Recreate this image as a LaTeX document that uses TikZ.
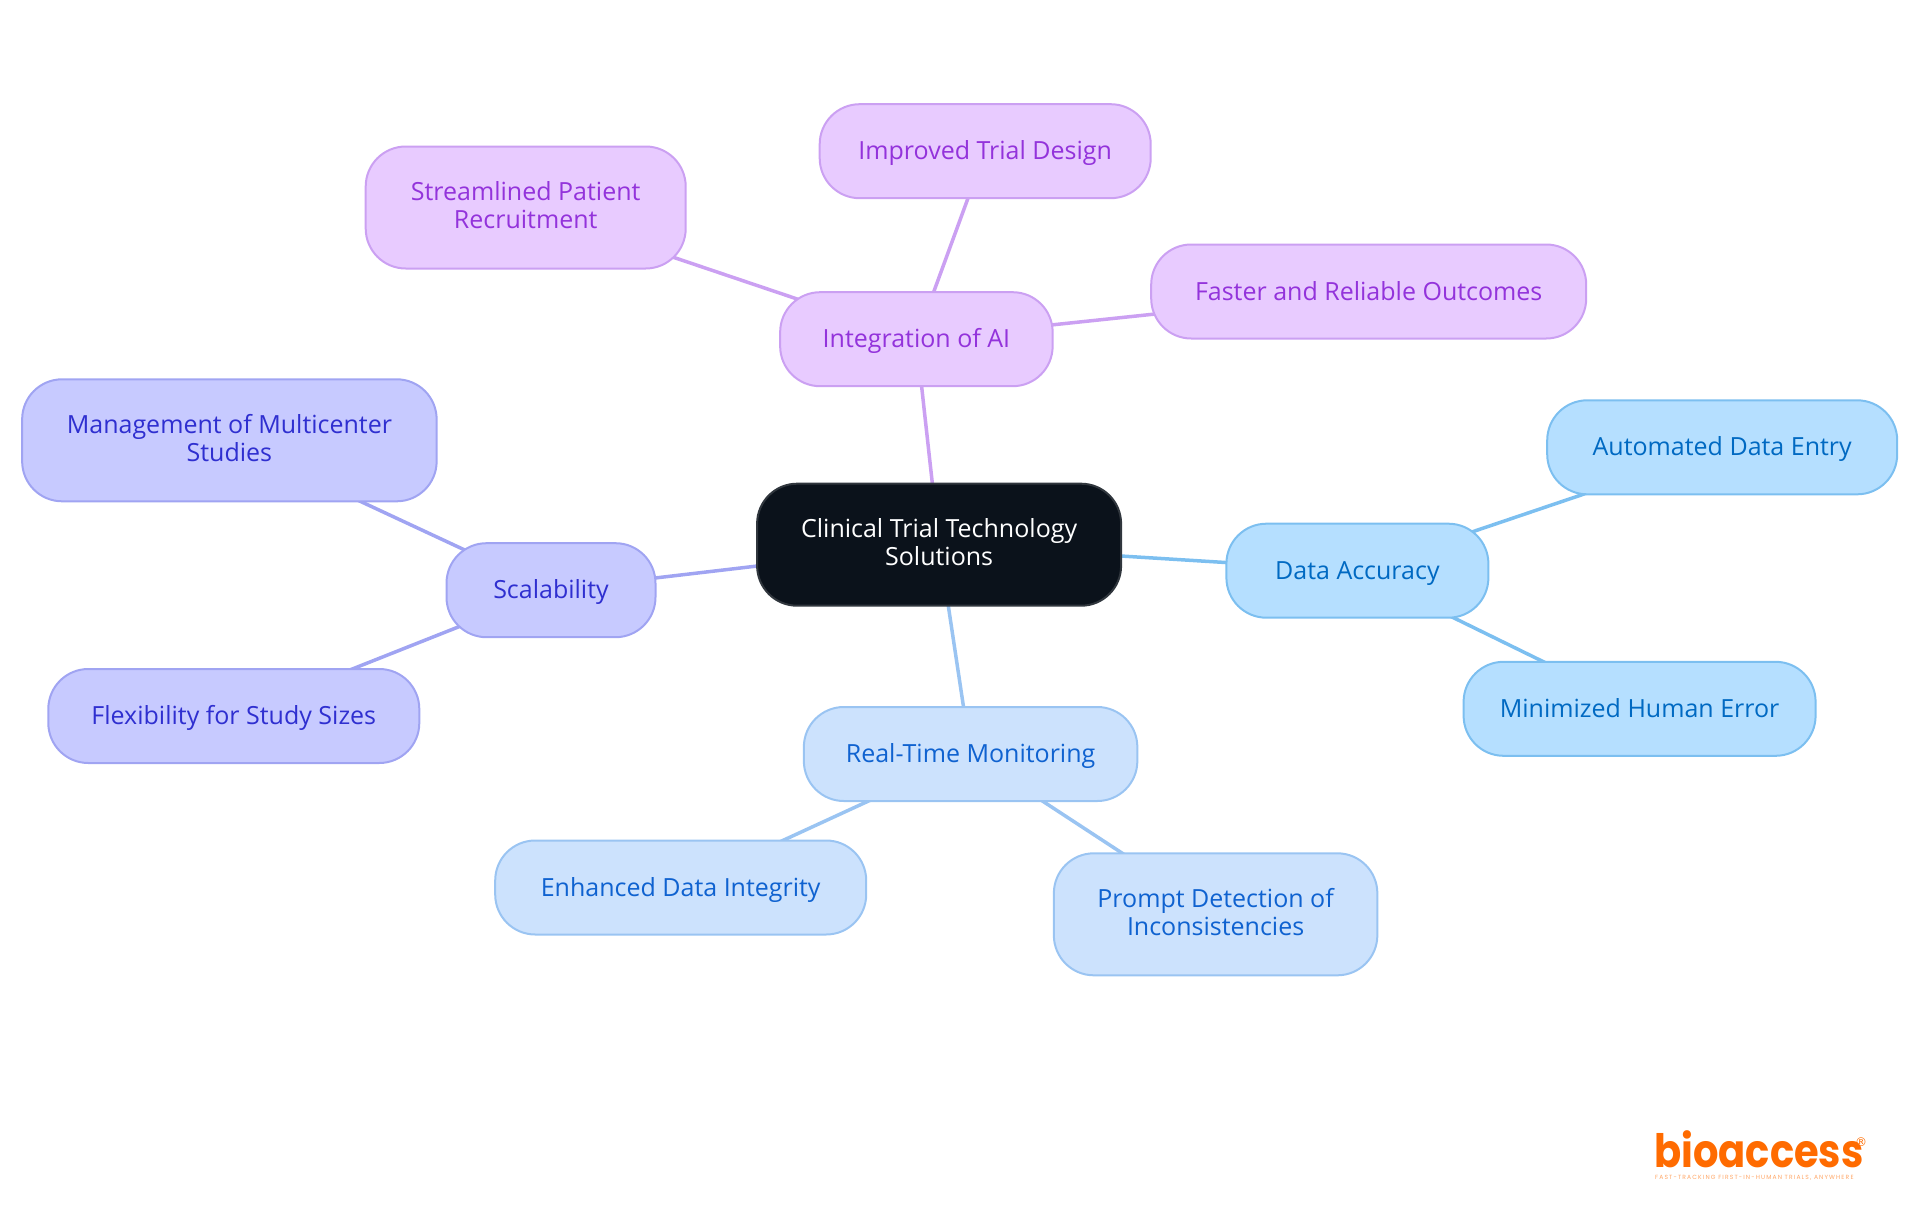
\documentclass[tikz,border=0pt]{standalone}
\usepackage{fontspec}
\setmainfont{Open Sans}
\newfontfamily\logofont{Poppins}
\newfontfamily\markfont{DejaVu Sans}
\usetikzlibrary{backgrounds}
\definecolor{rootfill}{HTML}{0B121B}
\definecolor{rootline}{HTML}{30363D}
\definecolor{aifill}{HTML}{E8CBFF}
\definecolor{ailine}{HTML}{CBA0F2}
\definecolor{aitext}{HTML}{9333DB}
\definecolor{scalefill}{HTML}{C7CAFF}
\definecolor{scaleline}{HTML}{A0A4F2}
\definecolor{scaletext}{HTML}{2F2FD0}
\definecolor{accfill}{HTML}{B5DFFF}
\definecolor{accline}{HTML}{7CBFF0}
\definecolor{acctext}{HTML}{0069C2}
\definecolor{monfill}{HTML}{CCE2FD}
\definecolor{monline}{HTML}{9AC4F2}
\definecolor{montext}{HTML}{0F62D0}
\definecolor{logoorange}{HTML}{FF6B00}
\tikzset{
	basebox/.style={rounded corners=40pt,line width=2pt,align=center,inner sep=0pt,font=\fontsize{25}{28}\selectfont,
		execute at begin node={\rule{0pt}{23pt}},execute at end node={\rule[-5pt]{0pt}{5pt}}},
	rootbox/.style={basebox,draw=rootline,fill=rootfill,text=white},
	aibox/.style={basebox,draw=ailine,fill=aifill,text=aitext},
	scalebox/.style={basebox,draw=scaleline,fill=scalefill,text=scaletext},
	accbox/.style={basebox,draw=accline,fill=accfill,text=acctext},
	monbox/.style={basebox,draw=monline,fill=monfill,text=montext},
	boxsize/.style 2 args={minimum width=#1pt,minimum height=#2pt},
	link/.style={line width=3.5pt}
}
\begin{document}
\begin{tikzpicture}[x=1pt,y=-1pt]
	\useasboundingbox (0,0) rectangle (1920,1215);
	\node[rootbox,boxsize={364}{122}] (root) at (939.1,544.7) {Clinical Trial Technology\\Solutions};
	% integration of AI
	\node[aibox,boxsize={272.5}{94}] (ai) at (916.4,339.2) {Integration of AI};
	\node[aibox,boxsize={331}{94}] (design) at (985.2,151.2) {Improved Trial Design};
	\node[aibox,boxsize={320}{122}] (recruit) at (525.7,207.5) {Streamlined Patient\\Recruitment};
	\node[aibox,boxsize={435}{94}] (outcomes) at (1368.7,291.5) {Faster and Reliable Outcomes};
	% scalability
	\node[scalebox,boxsize={209}{94}] (scale) at (551,590.2) {Scalability};
	\node[scalebox,boxsize={414.5}{122}] (multi) at (229.4,440.3) {Management of Multicenter\\Studies};
	\node[scalebox,boxsize={371}{94}] (flex) at (233.8,716) {Flexibility for Study Sizes};
	% data accuracy
	\node[accbox,boxsize={262}{94}] (acc) at (1357.4,570.7) {Data Accuracy};
	\node[accbox,boxsize={350}{94}] (entry) at (1722.2,447.3) {Automated Data Entry};
	\node[accbox,boxsize={352}{94}] (human) at (1639.6,708.8) {Minimized Human Error};
	% monitoring
	\node[monbox,boxsize={333.5}{94}] (mon) at (970.6,754) {Real-Time Monitoring};
	\node[monbox,boxsize={371}{94}] (integrity) at (680.7,887.5) {Enhanced Data Integrity};
	\node[monbox,boxsize={323.5}{122}] (prompt) at (1215.6,914.3) {Prompt Detection of\\Inconsistencies};
	\begin{pgfonlayer}{background}
		\draw[link,ailine] (root.center) -- (ai.center);
		\draw[link,ailine] (ai.center) -- (design.center);
		\draw[link,ailine] (ai.center) -- (recruit.center);
		\draw[link,ailine] (ai.center) -- (outcomes.center);
		\draw[link,scaleline] (root.center) -- (scale.center);
		\draw[link,scaleline] (scale.center) -- (multi.center);
		\draw[link,scaleline] (scale.center) -- (flex.center);
		\draw[link,accline] (root.center) -- (acc.center);
		\draw[link,accline] (acc.center) -- (entry.center);
		\draw[link,accline] (acc.center) -- (human.center);
		\draw[link,monline] (root.center) -- (mon.center);
		\draw[link,monline] (mon.center) -- (integrity.center);
		\draw[link,monline] (mon.center) -- (prompt.center);
	\end{pgfonlayer}
	% logo
	\node[inner sep=0pt,anchor=base west,xscale=0.87,transform shape,text=logoorange,font=\logofont\bfseries\fontsize{46}{46}\selectfont] (logo) at (1654,1167.5) {bioaccess};
	\node[inner sep=0pt,text=logoorange,font=\markfont\fontsize{12}{12}\selectfont] (reg) at (1861,1142) {®};
	\node[inner sep=0pt,anchor=base west,text=logoorange!60,font=\logofont\fontsize{6}{6}\selectfont] (tag) at (1655,1179.5) {\addfontfeature{LetterSpace=19}FAST-TRACKING FIRST-IN-HUMAN TRIALS, ANYWHERE};
\end{tikzpicture}
\end{document}
